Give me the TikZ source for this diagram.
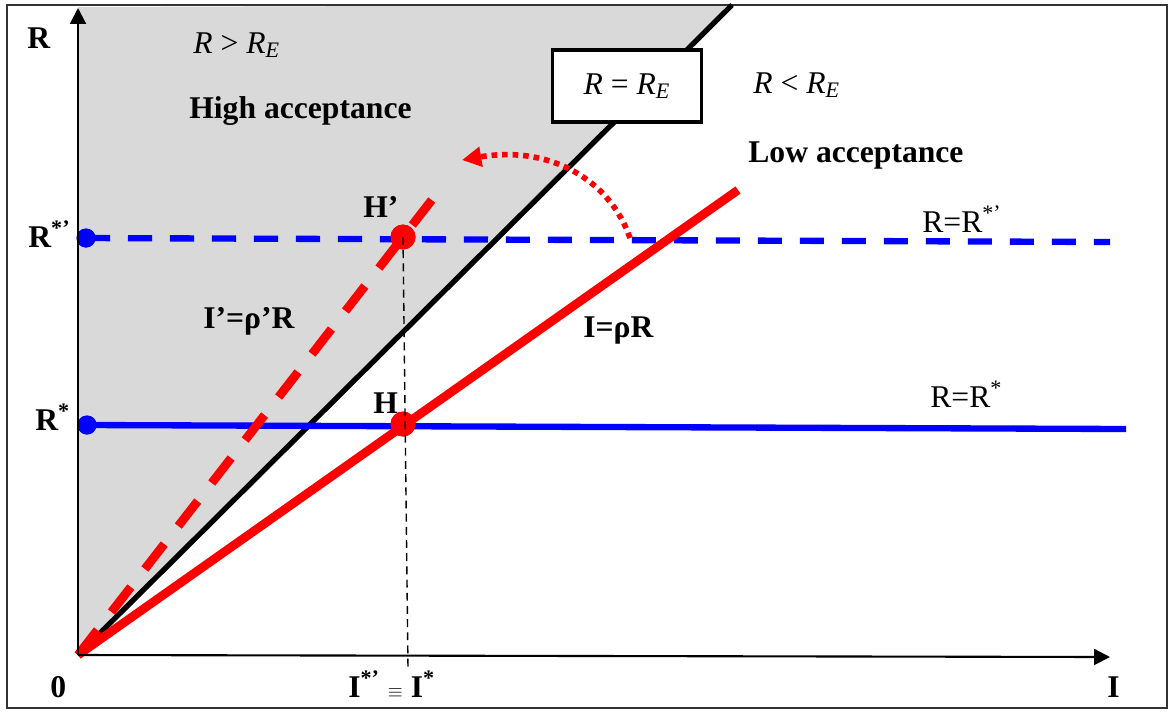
\documentclass[tikz,border=0pt]{standalone}
\usepackage{fontspec}
\setmainfont{Liberation Serif}
\usetikzlibrary{arrows.meta,calc,positioning}
\definecolor{shadegray}{RGB}{217,217,217}
\definecolor{pureblue}{rgb}{0,0,1}
\definecolor{purered}{rgb}{1,0,0}
\tikzset{
  axis/.style={
    line width=1.2pt,
    -{Triangle[length=9pt,width=9pt]}
  },
  frontier/.style={
    line width=3pt,
    black
  },
  bluedot/.style={
    circle,
    fill=pureblue,
    inner sep=0pt,
    minimum size=0.38cm
  },
  reddot/.style={
    circle,
    fill=purered,
    inner sep=0pt,
    minimum size=0.5cm
  },
  bline/.style={
    line width=3.6pt,
    pureblue
  },
  rline/.style={
    line width=5pt,
    purered
  },
  shiftarc/.style={
    line width=3.2pt,
    purered,
    dash pattern=on 3.2pt off 2.8pt,
    -{Triangle[length=11pt,width=11pt]}
  },
  guide/.style={
    line width=0.8pt,
    dash pattern=on 4.5pt off 3pt
  },
  boxed/.style={
    draw,
    line width=2pt,
    fill=white,
    minimum width=2.98cm,
    minimum height=1.44cm,
    font=\fontsize{18}{21}\selectfont
  },
  lbl/.style={
    inner sep=0pt,
    anchor=base west,
    font=\fontsize{18}{21}\selectfont\bfseries
  },
  eqn/.style={
    inner sep=0pt,
    anchor=base west,
    font=\fontsize{18}{21}\selectfont
  }
}

\begin{document}
\begin{tikzpicture}[x=0.02cm,y=-0.02cm]
\useasboundingbox (0,0) rectangle (1169,711);
\coordinate (O) at (78,655);
\coordinate (Ytop) at (78,8);
\coordinate (Xend) at (1110,657);
\coordinate (Etop) at (732,5);
\fill[shadegray] (O) -- (78,7) -- (Etop) -- cycle;
\draw[black!80,line width=1.1pt] (7,5) rectangle (1167,708);

% points
\node[reddot] (Hp) at (403,237) {};
\node[reddot] (H) at (403,424) {};
\node[bluedot] (Rsp) at (86,238) {};
\node[bluedot] (Rs) at (87,425) {};
\coordinate (Rspend) at (1110,242);
\coordinate (Rsend) at (1126,429);
\coordinate (Ilow) at (408,668);
\coordinate (rhoend) at (738,190);
\coordinate (rhopend) at ($(O)!1.13!(Hp)$);
\coordinate (arcstart) at (630,238);
\coordinate (arcend) at (462,160);

\draw[frontier] (O) -- (Etop);
\draw[bline,dash pattern=on 13.7pt off 10.2pt] (Rsp.center) -- (Rspend);
\draw[bline] (Rs.center) -- (Rsend);
\draw[rline] (O) -- (rhoend);
\draw[rline,dash pattern=on 18pt off 13pt] (O) -- (rhopend);
\draw[shiftarc] (arcstart) .. controls (610,180) and (550,145) .. (arcend);
\node[reddot] at (Hp) {};
\node[reddot] at (H) {};
\node[bluedot] at (Rsp) {};
\node[bluedot] at (Rs) {};
\draw[guide] (Hp.center) -- (Ilow);
\draw[axis] (O) -- (Ytop);
\draw[axis] (O) -- (Xend);

% labels
\node[boxed] (RE) at (627,86) {\textit{R} = \textit{R}\textsubscript{\textit{E}}};
\node[eqn] (more) at (193,53) {\textit{R} > \textit{R}\textsubscript{\textit{E}}};
\node[eqn] (less) at (753,93) {\textit{R} < \textit{R}\textsubscript{\textit{E}}};
\node[lbl] (high) at (189,118) {High acceptance};
\node[lbl] (low) at (748,162) {Low acceptance};
\node[lbl] (Hplbl) at (363,217) {H’};
\node[lbl] (Hlbl) at (373,413) {H};
\node[lbl] (rhop) at (203,328) {I’=ρ’R};
\node[lbl] (rho) at (583,337) {I=ρR};
\node[lbl] (Ylbl) at (27,48) {R};
\node[lbl] (Rsplbl) at (28,247) {R\textsuperscript{*’}};
\node[lbl] (Rslbl) at (35,430) {R\textsuperscript{*}};
\node[lbl] (zero) at (50,697) {0};
\node[lbl] (Istar) at (348,697) {I\textsuperscript{*’} {\fontsize{11}{11}\selectfont$\equiv$} I\textsuperscript{*}};
\node[lbl] (Xlbl) at (1107,697) {I};
\node[eqn] (Rspeq) at (922,232) {R=R\textsuperscript{*’}};
\node[eqn] (Rseq) at (930,407) {R=R\textsuperscript{*}};
\end{tikzpicture}
\end{document}
